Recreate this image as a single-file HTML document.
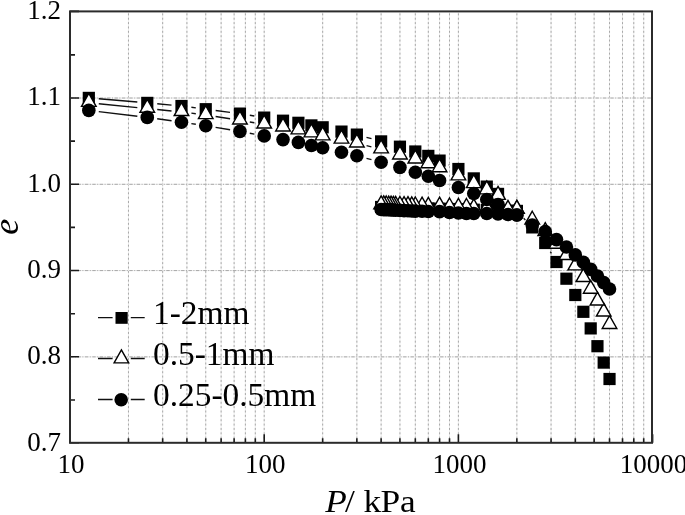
<!DOCTYPE html>
<html><head><meta charset="utf-8"><title>e-logP</title>
<style>html,body{margin:0;padding:0;background:#fff;width:685px;height:515px;overflow:hidden}svg{display:block;will-change:transform}</style>
</head><body>
<svg width="685" height="515" viewBox="0 0 685 515">
<rect width="685" height="515" fill="#fff"/>
<path d="M128.46 12.40V441.80M162.66 12.40V441.80M186.92 12.40V441.80M205.74 12.40V441.80M221.12 12.40V441.80M234.12 12.40V441.80M245.38 12.40V441.80M255.31 12.40V441.80M264.20 12.40V441.80M322.66 12.40V441.80M356.86 12.40V441.80M381.12 12.40V441.80M399.94 12.40V441.80M415.32 12.40V441.80M428.32 12.40V441.80M439.58 12.40V441.80M449.51 12.40V441.80M458.40 12.40V441.80M516.86 12.40V441.80M551.06 12.40V441.80M575.32 12.40V441.80M594.14 12.40V441.80M609.52 12.40V441.80M622.52 12.40V441.80M633.78 12.40V441.80M643.71 12.40V441.80" stroke="#ececec" stroke-width="1" fill="none"/>
<path d="M128.46 12.40V441.80M162.66 12.40V441.80M186.92 12.40V441.80M205.74 12.40V441.80M221.12 12.40V441.80M234.12 12.40V441.80M245.38 12.40V441.80M255.31 12.40V441.80M264.20 12.40V441.80M322.66 12.40V441.80M356.86 12.40V441.80M381.12 12.40V441.80M399.94 12.40V441.80M415.32 12.40V441.80M428.32 12.40V441.80M439.58 12.40V441.80M449.51 12.40V441.80M458.40 12.40V441.80M516.86 12.40V441.80M551.06 12.40V441.80M575.32 12.40V441.80M594.14 12.40V441.80M609.52 12.40V441.80M622.52 12.40V441.80M633.78 12.40V441.80M643.71 12.40V441.80" stroke="#a8a8a8" stroke-width="1" stroke-dasharray="2 2.364" stroke-dashoffset="-0.97" fill="none"/>
<path d="M71.00 356.87H651.60M71.00 270.59H651.60M71.00 184.31H651.60M71.00 98.03H651.60" stroke="#ececec" stroke-width="1" fill="none"/>
<path d="M71.00 356.87H651.60M71.00 270.59H651.60M71.00 184.31H651.60M71.00 98.03H651.60" stroke="#a8a8a8" stroke-width="1" stroke-dasharray="3.4 1.5 1 1.5" stroke-dashoffset="0.9" fill="none"/>
<path d="M70.00 442.80V434.30M128.46 442.80V438.30M162.66 442.80V438.30M186.92 442.80V438.30M205.74 442.80V438.30M221.12 442.80V438.30M234.12 442.80V438.30M245.38 442.80V438.30M255.31 442.80V438.30M264.20 442.80V434.30M322.66 442.80V438.30M356.86 442.80V438.30M381.12 442.80V438.30M399.94 442.80V438.30M415.32 442.80V438.30M428.32 442.80V438.30M439.58 442.80V438.30M449.51 442.80V438.30M458.40 442.80V434.30M516.86 442.80V438.30M551.06 442.80V438.30M575.32 442.80V438.30M594.14 442.80V438.30M609.52 442.80V438.30M622.52 442.80V438.30M633.78 442.80V438.30M643.71 442.80V438.30M652.60 442.80V434.30M70.00 442.80H79.00M70.00 399.96H75.00M70.00 356.82H79.00M70.00 313.68H75.00M70.00 270.54H79.00M70.00 227.40H75.00M70.00 184.26H79.00M70.00 141.12H75.00M70.00 97.98H79.00M70.00 54.84H75.00M70.00 11.40H79.00" stroke="#1a1a1a" stroke-width="1.6" fill="none"/>
<path d="M98.78 98.75L137.32 102.05M157.24 103.80L171.52 105.10M191.39 107.31L195.83 107.89M215.66 110.48L230.02 112.32M249.80 115.23L254.33 115.97M366.49 137.30L371.49 138.70M448.71 164.68L449.27 164.92M523.70 218.29L525.40 220.11M550.34 251.60L551.40 253.40M98.77 103.70L137.33 107.60M157.23 109.56L171.52 110.94M191.40 113.17L195.82 113.73M215.62 116.53L230.05 118.77M249.80 121.97L254.34 122.73M366.57 145.66L371.40 146.84M98.75 111.59L137.35 116.21M157.18 118.79L171.57 120.81M191.37 123.63L195.84 124.27M215.60 127.34L230.07 129.76M249.77 133.22L254.37 134.08M366.51 158.32L371.47 159.68" stroke="#111" stroke-width="1.4" fill="none"/>
<g fill="#000"><rect x="82.72" y="91.80" width="12.20" height="12.20"/><rect x="141.18" y="96.80" width="12.20" height="12.20"/><rect x="175.38" y="99.90" width="12.20" height="12.20"/><rect x="199.64" y="103.10" width="12.20" height="12.20"/><rect x="233.84" y="107.50" width="12.20" height="12.20"/><rect x="258.10" y="111.50" width="12.20" height="12.20"/><rect x="276.92" y="114.60" width="12.20" height="12.20"/><rect x="292.30" y="116.70" width="12.20" height="12.20"/><rect x="305.30" y="119.30" width="12.20" height="12.20"/><rect x="316.56" y="121.20" width="12.20" height="12.20"/><rect x="335.38" y="125.50" width="12.20" height="12.20"/><rect x="350.76" y="128.50" width="12.20" height="12.20"/><rect x="375.02" y="135.30" width="12.20" height="12.20"/><rect x="393.84" y="140.60" width="12.20" height="12.20"/><rect x="409.22" y="145.40" width="12.20" height="12.20"/><rect x="422.22" y="149.80" width="12.20" height="12.20"/><rect x="433.48" y="154.50" width="12.20" height="12.20"/><rect x="452.30" y="162.90" width="12.20" height="12.20"/><rect x="467.68" y="172.30" width="12.20" height="12.20"/><rect x="480.68" y="180.50" width="12.20" height="12.20"/><rect x="491.94" y="187.80" width="12.20" height="12.20"/><rect x="603.42" y="372.90" width="12.20" height="12.20"/><rect x="597.60" y="356.50" width="12.20" height="12.20"/><rect x="591.35" y="340.10" width="12.20" height="12.20"/><rect x="584.60" y="322.30" width="12.20" height="12.20"/><rect x="577.26" y="305.70" width="12.20" height="12.20"/><rect x="569.22" y="288.90" width="12.20" height="12.20"/><rect x="560.33" y="272.60" width="12.20" height="12.20"/><rect x="550.40" y="255.90" width="12.20" height="12.20"/><rect x="539.14" y="236.90" width="12.20" height="12.20"/><rect x="526.14" y="221.30" width="12.20" height="12.20"/><rect x="510.76" y="204.90" width="12.20" height="12.20"/><rect x="510.76" y="204.90" width="12.20" height="12.20"/><rect x="501.87" y="204.64" width="12.20" height="12.20"/><rect x="491.94" y="204.35" width="12.20" height="12.20"/><rect x="480.68" y="204.01" width="12.20" height="12.20"/><rect x="467.68" y="203.63" width="12.20" height="12.20"/><rect x="460.34" y="203.41" width="12.20" height="12.20"/><rect x="452.30" y="203.18" width="12.20" height="12.20"/><rect x="443.41" y="202.92" width="12.20" height="12.20"/><rect x="433.48" y="202.62" width="12.20" height="12.20"/><rect x="422.22" y="202.29" width="12.20" height="12.20"/><rect x="415.97" y="202.11" width="12.20" height="12.20"/><rect x="409.22" y="201.91" width="12.20" height="12.20"/><rect x="405.63" y="201.80" width="12.20" height="12.20"/><rect x="401.88" y="201.69" width="12.20" height="12.20"/><rect x="397.95" y="201.58" width="12.20" height="12.20"/><rect x="393.84" y="201.45" width="12.20" height="12.20"/><rect x="389.51" y="201.33" width="12.20" height="12.20"/><rect x="387.26" y="201.26" width="12.20" height="12.20"/><rect x="384.95" y="201.19" width="12.20" height="12.20"/><rect x="382.58" y="201.12" width="12.20" height="12.20"/><rect x="380.13" y="201.05" width="12.20" height="12.20"/><rect x="377.62" y="200.98" width="12.20" height="12.20"/><rect x="375.02" y="200.90" width="12.20" height="12.20"/></g>
<g fill="#fff" stroke="#000" stroke-width="1.4" stroke-linejoin="miter"><path d="M88.82 93.45L96.12 106.35L81.52 106.35Z"/><path d="M147.28 99.35L154.58 112.25L139.98 112.25Z"/><path d="M181.48 102.65L188.78 115.55L174.18 115.55Z"/><path d="M205.74 105.75L213.04 118.65L198.44 118.65Z"/><path d="M239.94 111.05L247.24 123.95L232.64 123.95Z"/><path d="M264.20 115.15L271.50 128.05L256.90 128.05Z"/><path d="M283.02 118.05L290.32 130.95L275.72 130.95Z"/><path d="M298.40 120.95L305.70 133.85L291.10 133.85Z"/><path d="M311.40 123.95L318.70 136.85L304.10 136.85Z"/><path d="M322.66 126.95L329.96 139.85L315.36 139.85Z"/><path d="M341.48 130.25L348.78 143.15L334.18 143.15Z"/><path d="M356.86 134.05L364.16 146.95L349.56 146.95Z"/><path d="M381.12 139.95L388.42 152.85L373.82 152.85Z"/><path d="M399.94 146.05L407.24 158.95L392.64 158.95Z"/><path d="M415.32 150.15L422.62 163.05L408.02 163.05Z"/><path d="M428.32 154.85L435.62 167.75L421.02 167.75Z"/><path d="M439.58 158.85L446.88 171.75L432.28 171.75Z"/><path d="M458.40 166.95L465.70 179.85L451.10 179.85Z"/><path d="M473.78 174.75L481.08 187.65L466.48 187.65Z"/><path d="M486.78 180.95L494.08 193.85L479.48 193.85Z"/><path d="M498.04 186.45L505.34 199.35L490.74 199.35Z"/><path d="M609.52 315.55L616.82 328.45L602.22 328.45Z"/><path d="M603.70 303.15L611.00 316.05L596.40 316.05Z"/><path d="M597.45 292.15L604.75 305.05L590.15 305.05Z"/><path d="M590.70 280.35L598.00 293.25L583.40 293.25Z"/><path d="M583.36 268.65L590.66 281.55L576.06 281.55Z"/><path d="M575.32 256.95L582.62 269.85L568.02 269.85Z"/><path d="M566.43 246.65L573.73 259.55L559.13 259.55Z"/><path d="M556.50 235.35L563.80 248.25L549.20 248.25Z"/><path d="M545.24 222.65L552.54 235.55L537.94 235.55Z"/><path d="M532.24 211.25L539.54 224.15L524.94 224.15Z"/><path d="M516.86 200.40L524.16 213.30L509.56 213.30Z"/><path d="M516.86 200.40L524.16 213.30L509.56 213.30Z"/><path d="M507.97 200.40L515.27 213.30L500.67 213.30Z"/><path d="M498.04 199.80L505.34 212.70L490.74 212.70Z"/><path d="M486.78 199.40L494.08 212.30L479.48 212.30Z"/><path d="M473.78 198.90L481.08 211.80L466.48 211.80Z"/><path d="M466.44 198.50L473.74 211.40L459.14 211.40Z"/><path d="M458.40 198.30L465.70 211.20L451.10 211.20Z"/><path d="M449.51 198.00L456.81 210.90L442.21 210.90Z"/><path d="M439.58 197.20L446.88 210.10L432.28 210.10Z"/><path d="M428.32 197.30L435.62 210.20L421.02 210.20Z"/><path d="M422.07 197.10L429.37 210.00L414.77 210.00Z"/><path d="M415.32 197.00L422.62 209.90L408.02 209.90Z"/><path d="M411.73 196.80L419.03 209.70L404.43 209.70Z"/><path d="M407.98 196.70L415.28 209.60L400.68 209.60Z"/><path d="M404.05 196.60L411.35 209.50L396.75 209.50Z"/><path d="M399.94 196.50L407.24 209.40L392.64 209.40Z"/><path d="M395.61 196.40L402.91 209.30L388.31 209.30Z"/><path d="M393.36 196.30L400.66 209.20L386.06 209.20Z"/><path d="M391.05 196.20L398.35 209.10L383.75 209.10Z"/><path d="M388.68 196.10L395.98 209.00L381.38 209.00Z"/><path d="M386.23 196.00L393.53 208.90L378.93 208.90Z"/><path d="M383.72 195.90L391.02 208.80L376.42 208.80Z"/><path d="M381.12 195.80L388.42 208.70L373.82 208.70Z"/></g>
<g fill="#000"><circle cx="88.82" cy="110.40" r="6.80"/><circle cx="147.28" cy="117.40" r="6.80"/><circle cx="181.48" cy="122.20" r="6.80"/><circle cx="205.74" cy="125.70" r="6.80"/><circle cx="239.94" cy="131.40" r="6.80"/><circle cx="264.20" cy="135.90" r="6.80"/><circle cx="283.02" cy="139.60" r="6.80"/><circle cx="298.40" cy="142.40" r="6.80"/><circle cx="311.40" cy="145.50" r="6.80"/><circle cx="322.66" cy="147.70" r="6.80"/><circle cx="341.48" cy="152.20" r="6.80"/><circle cx="356.86" cy="155.70" r="6.80"/><circle cx="381.12" cy="162.30" r="6.80"/><circle cx="399.94" cy="167.40" r="6.80"/><circle cx="415.32" cy="172.20" r="6.80"/><circle cx="428.32" cy="176.20" r="6.80"/><circle cx="439.58" cy="180.50" r="6.80"/><circle cx="458.40" cy="187.50" r="6.80"/><circle cx="473.78" cy="193.50" r="6.80"/><circle cx="486.78" cy="199.50" r="6.80"/><circle cx="498.04" cy="204.50" r="6.80"/><circle cx="609.52" cy="289.00" r="6.80"/><circle cx="603.70" cy="282.60" r="6.80"/><circle cx="597.45" cy="276.00" r="6.80"/><circle cx="590.70" cy="269.40" r="6.80"/><circle cx="583.36" cy="262.20" r="6.80"/><circle cx="575.32" cy="254.90" r="6.80"/><circle cx="566.43" cy="247.00" r="6.80"/><circle cx="556.50" cy="239.60" r="6.80"/><circle cx="545.24" cy="231.60" r="6.80"/><circle cx="532.24" cy="225.00" r="6.80"/><circle cx="516.86" cy="215.00" r="6.80"/><circle cx="516.86" cy="215.00" r="6.80"/><circle cx="507.97" cy="214.50" r="6.80"/><circle cx="498.04" cy="214.00" r="6.80"/><circle cx="486.78" cy="213.50" r="6.80"/><circle cx="473.78" cy="213.50" r="6.80"/><circle cx="466.44" cy="213.50" r="6.80"/><circle cx="458.40" cy="213.00" r="6.80"/><circle cx="449.51" cy="212.50" r="6.80"/><circle cx="439.58" cy="211.60" r="6.80"/><circle cx="428.32" cy="211.50" r="6.80"/><circle cx="422.07" cy="211.30" r="6.80"/><circle cx="415.32" cy="211.10" r="6.80"/><circle cx="411.73" cy="211.00" r="6.80"/><circle cx="407.98" cy="210.80" r="6.80"/><circle cx="404.05" cy="210.60" r="6.80"/><circle cx="399.94" cy="210.40" r="6.80"/><circle cx="395.61" cy="210.20" r="6.80"/><circle cx="393.36" cy="210.00" r="6.80"/><circle cx="391.05" cy="209.90" r="6.80"/><circle cx="388.68" cy="209.80" r="6.80"/><circle cx="386.23" cy="209.70" r="6.80"/><circle cx="383.72" cy="209.60" r="6.80"/><circle cx="381.12" cy="209.50" r="6.80"/></g>
<rect x="70.00" y="11.40" width="582.00" height="431.40" fill="none" stroke="#2b2b2b" stroke-width="2"/>
<path d="M98.0 317.70H112.6 M130.8 317.70H144.7M98.0 358.50H112.6 M130.8 358.50H144.7M98.0 399.50H112.6 M130.8 399.50H144.7" stroke="#111" stroke-width="1.3" fill="none"/>
<rect x="115.5" y="312.0" width="12.2" height="11.8" fill="#000"/>
<path d="M121.40 349.95L128.70 362.85L114.10 362.85Z" fill="#fff" stroke="#000" stroke-width="1.4" stroke-linejoin="miter"/>
<circle cx="121.2" cy="399.7" r="6.8" fill="#000"/>
<g font-family="'Liberation Serif', serif" font-size="33.4" fill="#000">
<text x="153" y="324.30">1-2mm</text>
<text x="153" y="365.40">0.5-1mm</text>
<text x="153" y="406.40">0.25-0.5mm</text>
</g>
<g font-family="'Liberation Serif', serif" font-size="27.0" fill="#000">
<text x="61" y="451.10" text-anchor="end">0.7</text>
<text x="61" y="364.22" text-anchor="end">0.8</text>
<text x="61" y="277.94" text-anchor="end">0.9</text>
<text x="61" y="191.66" text-anchor="end">1.0</text>
<text x="61" y="105.38" text-anchor="end">1.1</text>
<text x="61" y="19.10" text-anchor="end">1.2</text>
<text x="71.00" y="472.8" text-anchor="middle">10</text>
<text x="265.20" y="472.8" text-anchor="middle">100</text>
<text x="459.40" y="472.8" text-anchor="middle">1000</text>
<text x="653.60" y="472.8" text-anchor="middle">10000</text>
</g>
<text transform="translate(325.30 512.2) scale(1.07 0.98)" font-family="'Liberation Serif', serif" font-size="33" fill="#000" font-style="italic">P</text>
<text transform="translate(345.00 512.2) scale(1.07 0.98)" font-family="'Liberation Serif', serif" font-size="33" fill="#000">/</text>
<text transform="translate(363.60 512.2) scale(1.07 0.98)" font-family="'Liberation Serif', serif" font-size="33" fill="#000">k</text>
<text transform="translate(380.60 512.2) scale(1.07 0.98)" font-family="'Liberation Serif', serif" font-size="33" fill="#000">P</text>
<text transform="translate(400.00 512.2) scale(1.07 0.98)" font-family="'Liberation Serif', serif" font-size="33" fill="#000">a</text>
<text transform="translate(17.6 234.8) rotate(-90)" font-family="'Liberation Serif', serif" font-size="36" font-style="italic" fill="#000">e</text>
</svg>
</body></html>
